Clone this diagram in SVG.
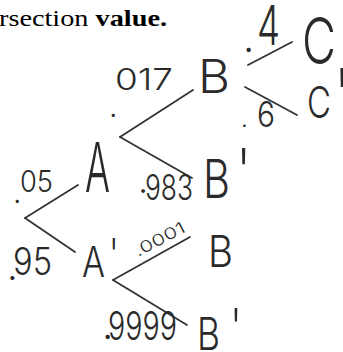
<svg xmlns="http://www.w3.org/2000/svg" width="343" height="352" viewBox="0 0 343 352">
<style>
.hd{font-family:"Liberation Serif",serif;font-size:24px;fill:#000}
.hw{font-family:Inter,"DejaVu Sans",sans-serif;font-weight:300;fill:#2a2a2a}
.pr{font-weight:200}
.ln{stroke:#333;stroke-width:1.8;stroke-linecap:round;fill:none}
</style>
<rect width="343" height="352" fill="#fff"/>
<text class="hd" x="-1" y="26" textLength="168" lengthAdjust="spacingAndGlyphs">rsection <tspan font-weight="bold">value.</tspan></text>
<g id="connectors">
<line class="ln" x1="248" y1="65" x2="292" y2="42"/>
<line class="ln" x1="245" y1="87" x2="297" y2="115"/>
<line class="ln" x1="120" y1="137" x2="193" y2="90"/>
<line class="ln" x1="120" y1="137" x2="192" y2="178"/>
<line class="ln" x1="25" y1="218" x2="78" y2="185"/>
<line class="ln" x1="25" y1="218" x2="75" y2="252"/>
<line class="ln" x1="113" y1="280" x2="190" y2="237"/>
<line class="ln" x1="113" y1="280" x2="187" y2="325"/>
</g>
<g id="edge-labels">
<text class="hw" font-size="40"><tspan x="243" y="52">.</tspan><tspan x="257" y="45" font-size="55" textLength="23" lengthAdjust="spacingAndGlyphs">4</tspan></text>
<text class="hw" font-size="24"><tspan x="241" y="127">.</tspan><tspan x="257" y="127" font-size="36" textLength="18" lengthAdjust="spacingAndGlyphs">6</tspan></text>
<text class="hw" font-size="30"><tspan x="109" y="117">.</tspan><tspan x="115" y="90" textLength="58" lengthAdjust="spacingAndGlyphs" transform="rotate(-15 115 90)">017</tspan></text>
<text class="hw" font-size="36"><tspan x="138" y="193">.</tspan><tspan x="145" y="200" textLength="48" lengthAdjust="spacingAndGlyphs">983</tspan></text>
<text class="hw" font-size="30"><tspan x="13" y="203">.</tspan><tspan x="20" y="192" textLength="33" lengthAdjust="spacingAndGlyphs" transform="rotate(-15 20 192)">05</tspan></text>
<text class="hw" font-size="38"><tspan x="7" y="280">.</tspan><tspan x="13" y="275" textLength="39" lengthAdjust="spacingAndGlyphs">95</tspan></text>
<text class="hw" font-size="16" transform="rotate(-28 138 257)" x="138" y="257" textLength="55" lengthAdjust="spacingAndGlyphs">.0001</text>
<text class="hw" font-size="40"><tspan x="102" y="339">.</tspan><tspan x="108" y="340" textLength="69" lengthAdjust="spacingAndGlyphs">9999</tspan></text>
</g>
<g id="node-A"><text class="hw" font-size="68" x="85" y="192" textLength="25" lengthAdjust="spacingAndGlyphs">A</text></g>
<g id="node-A-prime"><text class="hw" font-size="42" x="82" y="277"><tspan textLength="23" lengthAdjust="spacingAndGlyphs">A</tspan><tspan class="pr" x="107" y="273" font-size="48">'</tspan></text></g>
<g id="node-B1"><text class="hw" font-size="46" x="198" y="93" textLength="32" lengthAdjust="spacingAndGlyphs">B</text></g>
<g id="node-B1-prime"><text class="hw" font-size="53" x="203" y="198"><tspan textLength="27" lengthAdjust="spacingAndGlyphs">B</tspan><tspan class="pr" x="234" y="198" font-size="68">'</tspan></text></g>
<g id="node-C"><text class="hw" font-size="64" x="302" y="64" textLength="34" lengthAdjust="spacingAndGlyphs">C</text></g>
<g id="node-C-prime"><text class="hw" font-size="44" x="307" y="118"><tspan textLength="24" lengthAdjust="spacingAndGlyphs">C</tspan><tspan class="pr" x="331" y="126" font-size="80">'</tspan></text></g>
<g id="node-B2"><text class="hw" font-size="44" x="208" y="267" textLength="25" lengthAdjust="spacingAndGlyphs">B</text></g>
<g id="node-B2-prime"><text class="hw" font-size="45" x="197" y="350"><tspan textLength="23" lengthAdjust="spacingAndGlyphs">B</tspan><tspan class="pr" x="228" y="349" font-size="56">'</tspan></text></g>
</svg>
